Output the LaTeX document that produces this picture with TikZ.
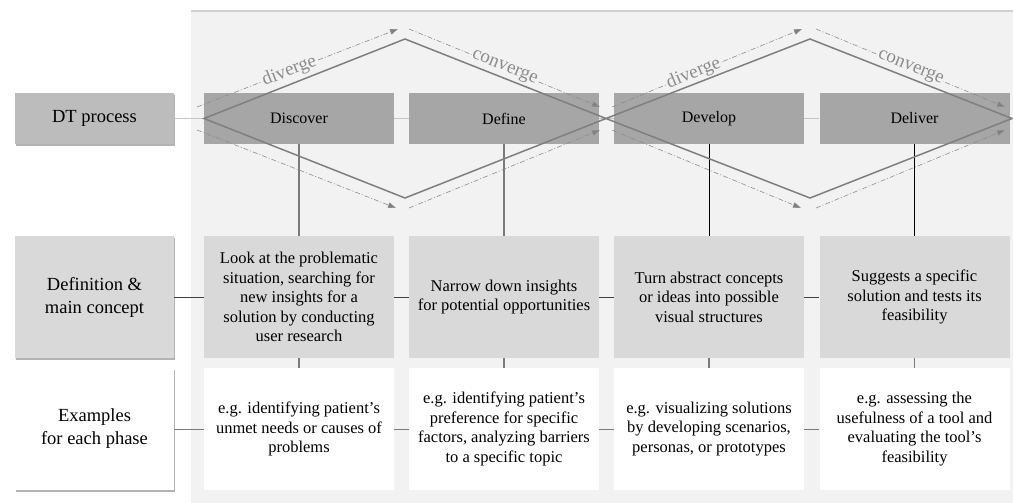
\documentclass[tikz,border=0pt]{standalone}
\usepackage{fontspec}
\setmainfont{Liberation Serif}
\usetikzlibrary{arrows.meta,shadows}
\definecolor{bgc}{HTML}{F2F2F2}
\definecolor{bordc}{HTML}{D0D0D0}
\definecolor{phasec}{HTML}{A6A6A6}
\definecolor{defc}{HTML}{D9D9D9}
\definecolor{dtc}{HTML}{BCBCBC}
\definecolor{diac}{HTML}{7F7F7F}
\definecolor{dashc}{HTML}{8C8C8C}
\definecolor{lightln}{HTML}{C4C4C4}
\definecolor{midln}{HTML}{7A7A7A}
\begin{document}
\begin{tikzpicture}[x=1pt,y=-1pt,
  cell/.style={inner sep=0pt, align=center, minimum width=190pt,
    font=\fontsize{16.5}{19.5}\selectfont},
  phase/.style={cell, fill=phasec, minimum height=51pt,
    font=\fontsize{16}{19.5}\selectfont},
  defbox/.style={cell, fill=defc, minimum height=122pt},
  exbox/.style={cell, fill=white, minimum height=122pt},
  lefthead/.style={inner sep=0pt, align=center, minimum width=159pt,
    font=\fontsize{18.5}{23}\selectfont,
    drop shadow={shadow xshift=1.2pt, shadow yshift=-2pt, fill=black!40, opacity=.75}},
  rowline/.style={line width=0.8pt},
  dasharrow/.style={draw=dashc, line width=0.6pt,
    dash pattern=on 5pt off 2pt on 1pt off 2pt,
    -{Triangle[length=8pt,width=5.5pt,fill=diac]}},
  lbl/.style={sloped, fill=bgc, inner sep=1pt, text=dashc,
    font=\fontsize{19}{22}\selectfont},
  dialine/.style={draw=diac, line width=1.5pt, line join=miter}
]
\useasboundingbox (0,0) rectangle (1013,503);
% background panel
\fill[bgc] (191,11) rectangle (1013,503);
\draw[bordc, line width=1.5pt] (191,11) -- (1013,11);

% left column
\node[lefthead, fill=dtc, minimum height=51pt] (dt) at (94.5,118.5) {DT process};
\node[lefthead, fill=defc, minimum height=122pt] (defh) at (94.5,297) {Definition \&\\main concept};
\node[lefthead, fill=white, minimum height=122pt] (exh) at (94.5,429) {Examples\\for each phase};

% phase row
\node[phase] (p1) at (299,118.5) {Discover};
\node[phase] (p2) at (504,118.5) {Define};
\node[phase] (p3) at (709,118.5) {Develop};
\node[phase] (p4) at (914.5,118.5) {Deliver};

% definition row
\node[defbox] (d1) at (299,297) {Look at the problematic\\situation, searching for\\new insights for a\\solution by conducting\\user research};
\node[defbox] (d2) at (504,297) {Narrow down insights\\for potential opportunities};
\node[defbox] (d3) at (709,297) {Turn abstract concepts\\or ideas into possible\\visual structures};
\node[defbox] (d4) at (914.5,297) {Suggests a specific\\solution and tests its\\feasibility};

% examples row
\node[exbox] (e1) at (299,429) {e.g. identifying patient’s\\unmet needs or causes of\\problems};
\node[exbox] (e2) at (504,429) {e.g. identifying patient’s\\preference for specific\\factors, analyzing barriers\\to a specific topic};
\node[exbox] (e3) at (709,429) {e.g. visualizing solutions\\by developing scenarios,\\personas, or prototypes};
\node[exbox] (e4) at (914.5,429) {e.g. assessing the\\usefulness of a tool and\\evaluating the tool’s\\feasibility};

% connectors
\draw[lightln, rowline] (dt.east) -- (p1.west);
\draw[lightln, rowline] (p1.east) -- (p2.west);
\draw[lightln, rowline] (p2.east) -- (p3.west);
\draw[lightln, rowline] (p3.east) -- (p4.west);
\draw[black!75, rowline] (defh.east) -- (d1.west);
\draw[black!75, rowline] (d1.east) -- (d2.west);
\draw[black!75, rowline] (d2.east) -- (d3.west);
\draw[black!75, rowline] (d3.east) -- (d4.west);
\draw[midln, rowline] (exh.east) -- (e1.west);
\draw[midln, rowline] (e1.east) -- (e2.west);
\draw[midln, rowline] (e2.east) -- (e3.west);
\draw[midln, rowline] (e3.east) -- (e4.west);
\draw[midln, line width=1.3pt] (p1.south) -- (d1.north);
\draw[midln, line width=1.3pt] (p2.south) -- (d2.north);
\draw[black, line width=0.8pt] (p3.south) -- (d3.north);
\draw[black, line width=0.8pt] (p4.south) -- (d4.north);
\foreach \i in {1,2,3,4}{
  \draw[midln, line width=1.3pt] (d\i.south) -- (e\i.north);
}

% dashed arrows
\coordinate (a1s) at (197,107); \coordinate (a1e) at (398,29);
\coordinate (a2s) at (409,29);  \coordinate (a2e) at (600,107);
\coordinate (a3s) at (197,130); \coordinate (a3e) at (396,208);
\coordinate (a4s) at (409,208); \coordinate (a4e) at (600,130);
\coordinate (b1s) at (612,107); \coordinate (b1e) at (802,29);
\coordinate (b2s) at (816,29);  \coordinate (b2e) at (1005,107);
\coordinate (b3s) at (612,130); \coordinate (b3e) at (801,208);
\coordinate (b4s) at (816,208); \coordinate (b4e) at (1005,130);
\draw[dasharrow] (a1s) -- node[lbl, pos=.46] {diverge} (a1e);
\draw[dasharrow] (a2s) -- node[lbl, pos=.5] {converge} (a2e);
\draw[dasharrow] (a3s) -- (a3e);
\draw[dasharrow] (a4s) -- (a4e);
\draw[dasharrow] (b1s) -- node[lbl, pos=.43] {diverge} (b1e);
\draw[dasharrow] (b2s) -- node[lbl, pos=.5] {converge} (b2e);
\draw[dasharrow] (b3s) -- (b3e);
\draw[dasharrow] (b4s) -- (b4e);

% double diamond
\coordinate (m1l) at (204,118.5);
\coordinate (m1t) at (405,39);
\coordinate (m1b) at (405,198);
\coordinate (mc) at (606,118.5);
\coordinate (m2t) at (810,39);
\coordinate (m2b) at (810,198);
\coordinate (m2r) at (1012,118.5);
\draw[dialine] (m1l) -- (m1t) -- (mc) -- (m1b) -- cycle;
\draw[dialine] (mc) -- (m2t) -- (m2r) -- (m2b) -- cycle;
\end{tikzpicture}
\end{document}
